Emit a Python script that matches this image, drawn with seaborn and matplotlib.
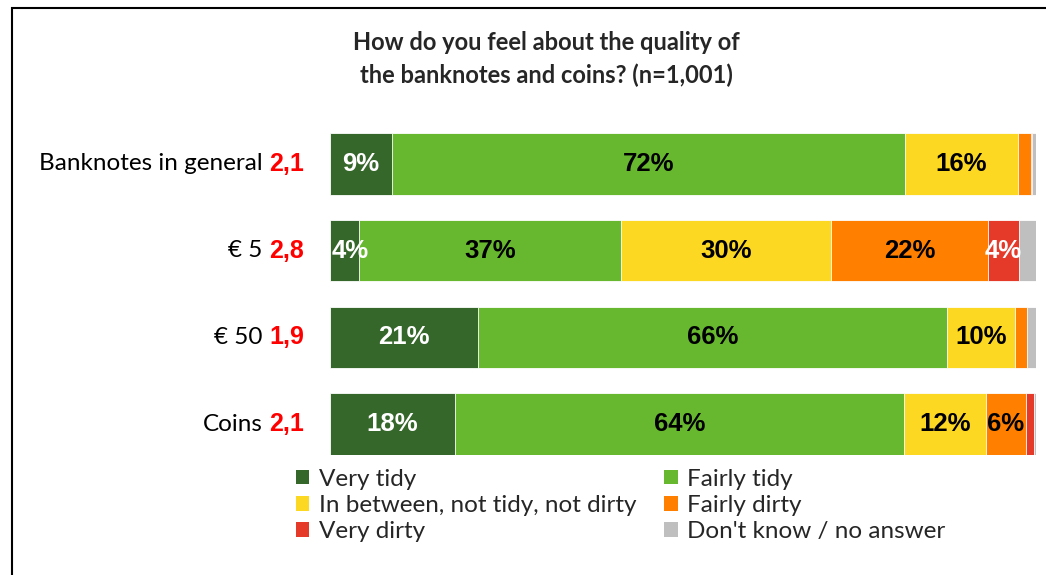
import numpy as np
import pandas as pd
import seaborn as sns
import matplotlib.pyplot as plt
import matplotlib.patches as patches

sns.set_style("white")
plt.rcParams['font.family'] = ['Lato', 'DejaVu Sans']

categories = ["Banknotes in general", "€ 5", "€ 50", "Coins"]
scores = ["2,1", "2,8", "1,9", "2,1"]
answers = ["Very tidy", "Fairly tidy", "In between, not tidy, not dirty",
           "Fairly dirty", "Very dirty", "Don't know / no answer"]
colors = ["#35662A", "#67B82F", "#FCD822", "#FF8000", "#E53A2A", "#BFBFBF"]

very_tidy = [8.8, 4.1, 21.0, 17.7]
fairly_tidy = [72.6, 37.1, 66.4, 63.6]
in_between = [16.0, 29.8, 9.6, 11.6]
fairly_dirty = [1.9, 22.2, 1.7, 5.7]
very_dirty = [0.1, 4.4, 0.0, 1.1]
dont_know = [0.6, 2.4, 1.3, 0.3]

shown = [["9%", "72%", "16%", "", "", ""],
         ["4%", "37%", "30%", "22%", "4%", ""],
         ["21%", "66%", "10%", "", "", ""],
         ["18%", "64%", "12%", "6%", "", ""]]
text_colors = ["white", "black", "black", "black", "white", "black"]

df = pd.DataFrame({
    answers[0]: very_tidy, answers[1]: fairly_tidy, answers[2]: in_between,
    answers[3]: fairly_dirty, answers[4]: very_dirty, answers[5]: dont_know,
}, index=categories)
cum = df.cumsum(axis=1)
total = df.sum(axis=1)
cum = cum.div(total, axis=0) * 100

fig = plt.figure(figsize=(10.46, 5.75), dpi=100)
ax = fig.add_axes([330 / 1046, 1 - 455 / 575, 706 / 1046, 322 / 575])

# stacked bars: draw cumulative totals from the longest down
for i in range(len(answers) - 1, -1, -1):
    plot_df = pd.DataFrame({"cat": categories, "val": cum[answers[i]].values})
    sns.barplot(data=plot_df, x="val", y="cat", orient="h", color=colors[i],
                width=0.71, edgecolor="white", linewidth=0.6, ax=ax,
                saturation=1, label=answers[i])

starts = cum.shift(1, axis=1).fillna(0)
for r, cat in enumerate(categories):
    for c, ans in enumerate(answers):
        txt = shown[r][c]
        if not txt:
            continue
        x0 = starts.loc[cat, ans]
        x1 = cum.loc[cat, ans]
        xc, ha = (x0 + x1) / 2, "center"
        if xc < 3:
            # too narrow at the left edge: keep the label inside the bar
            xc, ha = 0.3, "left"
        ax.text(xc, r, txt, ha=ha, va="center",
                fontsize=18.5, fontweight="bold", color=text_colors[c],
                family=["Liberation Sans", "DejaVu Sans"])

ax.set_xlim(0, 100)
ax.set_ylim(len(categories) - 1 + 0.355, -0.355)
ax.set_xticks([])
ax.set_yticks([])
ax.set_xlabel("")
ax.set_ylabel("")
for s in ax.spines.values():
    s.set_visible(False)
if ax.get_legend() is not None:
    ax.get_legend().remove()

trans = ax.get_yaxis_transform()
for r, cat in enumerate(categories):
    ax.text(-0.0955, r, cat, transform=trans, ha="right", va="center",
            fontsize=17.5, color="black")
    ax.text(-0.0365, r, scores[r], transform=trans, ha="right", va="center",
            fontsize=18, fontweight="bold", color="#FF0000",
            family=["Liberation Sans", "DejaVu Sans"])

fig.text(0.522, 1 - 43 / 575, "How do you feel about the quality of",
         ha="center", va="center", fontsize=17, fontweight="bold")
fig.text(0.522, 1 - 75 / 575, "the banknotes and coins? (n=1,001)",
         ha="center", va="center", fontsize=17, fontweight="bold")

handles = [patches.Patch(facecolor=col, edgecolor="none") for col in colors]
order = [0, 2, 4, 1, 3, 5]
fig.legend([handles[i] for i in order], [answers[i] for i in order],
           ncol=2, loc="upper left", bbox_to_anchor=(286 / 1046, 1 - 459 / 575),
           frameon=False, fontsize=17.5, handlelength=0.55, handleheight=0.55,
           handletextpad=0.4, columnspacing=1.15, labelspacing=0.22,
           borderaxespad=0)

fig.patches.append(patches.Rectangle((12 / 1046, -0.1), 1.2, 1.1 - 8 / 575,
                                     transform=fig.transFigure, fill=False,
                                     edgecolor="black", linewidth=1.5))

fig.savefig("out.png", dpi=100)
